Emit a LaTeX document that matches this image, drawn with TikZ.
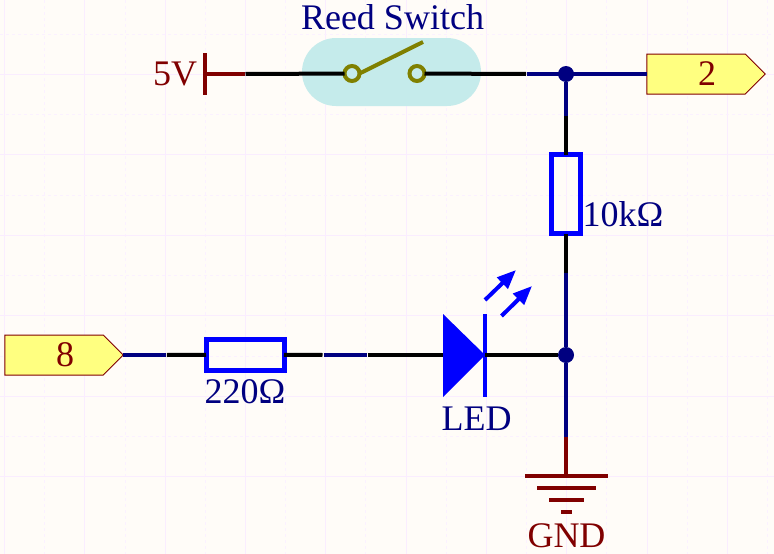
\documentclass[tikz,border=0pt]{standalone}
\usepackage{fontspec}
\setmainfont{Liberation Serif}
\usetikzlibrary{arrows.meta, positioning, shapes.symbols}
\definecolor{sheet}{HTML}{FFFCF8}
\definecolor{gridmajor}{HTML}{FAEDFF}
\definecolor{gridminor}{HTML}{FBF1FF}
\definecolor{netblue}{HTML}{000080}
\definecolor{pinred}{HTML}{800000}
\definecolor{partblue}{HTML}{0000FF}
\definecolor{reedteal}{HTML}{C5EBEB}
\definecolor{reedolive}{HTML}{808000}
\definecolor{portyellow}{HTML}{FFFF80}

\begin{document}
\begin{tikzpicture}[
		x=1pt, y=-1pt,
		node distance=6pt and 2pt,
		every node/.style={inner sep=0pt, outer sep=0pt, font=\fontsize{36}{40}\selectfont},
		lead/.style={line width=4pt, black},
		net/.style={line width=4pt, netblue},
		pin/.style={line width=4pt, pinred},
		bar/.style={line width=4pt, pinred},
		res/.style={draw=partblue, line width=5pt, rectangle},
		dot/.style={circle, fill=netblue, minimum size=16pt},
		port/.style={draw=pinred, line width=1pt, fill=portyellow, text=pinred, signal, signal to=east, signal from=nowhere, signal pointer angle=90, minimum width=118.5pt, minimum height=40pt},
		contact/.style={circle, draw=reedolive, fill=reedteal, line width=4pt, minimum size=15pt},
		blue label/.style={text=netblue},
		red label/.style={text=pinred}
		]
		\useasboundingbox (0,0) rectangle (774,554);
		\fill[sheet] (0,0) rectangle (774,554);
		% sheet grid
		\foreach \i in {0,...,9} {
			\draw[gridmajor, line width=0.8pt] ({4.5+80.3*\i},0) -- ({4.5+80.3*\i},554);
			\draw[gridminor, line width=0.8pt, dashed] ({44.6+80.3*\i},0) -- ({44.6+80.3*\i},554);
		}
		\foreach \i in {0,...,5} {
			\draw[gridmajor, line width=0.8pt] (0,{74+80.5*\i}) -- (774,{74+80.5*\i});
			\draw[gridminor, line width=0.8pt, dashed] (0,{34+80.5*\i}) -- (774,{34+80.5*\i});
		}

		% Reed switch
		\node[fill=reedteal, rounded corners=34pt, minimum width=179pt, minimum height=68pt] at (391.5,72) (reed) {};
		\node[blue label, above = of reed, xshift=1pt, yshift=2pt] (reedlabel) {Reed Switch};
		\node[contact] at (352,73.5) (swa) {};
		\node[contact] at (417,73.5) (swb) {};
		\coordinate (blade) at (423,42);
		\draw[reedolive, line width=4pt] (swa.east) -- (blade);

		% Parts
		\node[res, minimum width=29pt, minimum height=79pt] at (566,194) (rten) {};
		\node[res, minimum width=78pt, minimum height=31pt] at (245,354.5) (rtwo) {};
		\node[port] at (54,355) (porteight) {\hspace*{22pt}8};
		\node[port] at (696,74) (porttwo) {\hspace*{22pt}2};
		\node[dot] at (566,74) (topdot) {};
		\node[dot] at (566,355) (botdot) {};

		% 5V power port
		\coordinate (vbar) at (205,74);
		\coordinate (vend) at (244.5,74);
		\coordinate (vtop) at (205,53);
		\coordinate (vbot) at (205,95);
		\draw[bar] (vtop) -- (vbot);
		\draw[pin] (vbar) -- (vend);
		\node[red label, left = of vbar, xshift=-6pt] (vlabel) {5V};

		% LED
		\coordinate (ledin) at (443,355);
		\coordinate (ledout) at (485,355);
		\coordinate (ledtop) at (485,314);
		\coordinate (ledbot) at (485,397);
		\fill[partblue] (443,314) -- (ledout) -- (443,397) -- cycle;
		\draw[partblue, line width=4pt] (ledtop) -- (ledbot);
		\draw[-{Triangle[length=19pt,width=15pt]}, partblue, line width=4pt] (485,300) -- (516,270);
		\draw[-{Triangle[length=19pt,width=15pt]}, partblue, line width=4pt] (501.5,316) -- (532,286);
		\node[blue label, below = of ledbot, xshift=-8.5pt, yshift=-4pt] (ledlabel) {LED};

		% Draw the wires
		\coordinate (topa) at (245.5,74);
		\coordinate (topb) at (526,74);
		\coordinate (topc) at (527,74);
		\draw[lead] (topa) -- (swa);
		\draw[lead] (swb) -- (topb);
		\draw[net] (topc) -- (porttwo.west);
		\coordinate (upa) at (566,116);
		\coordinate (upb) at (566,273);
		\draw[net] (topdot) -- (upa);
		\draw[lead] (upa) -- (rten);
		\draw[lead] (rten) -- (upb);
		\draw[net] (upb) -- (botdot);
		\coordinate (gnda) at (566,437);
		\coordinate (gndb) at (566,476);
		\draw[net] (botdot) -- (gnda);
		\draw[pin] (gnda) -- (gndb);
		\coordinate (lefta) at (165.8,355);
		\coordinate (leftb) at (166.8,355);
		\coordinate (midb) at (322.5,355);
		\coordinate (midc) at (323.5,355);
		\coordinate (midd) at (366.7,355);
		\coordinate (mide) at (367.7,355);
		\draw[net] (porteight.east) -- (lefta);
		\draw[lead] (leftb) -- (rtwo);
		\draw[lead] (rtwo) -- (midb);
		\draw[net] (midc) -- (midd);
		\draw[lead] (mide) -- (ledin);
		\draw[lead] (ledout) -- (botdot);

		% GND symbol
		\foreach \y/\w in {476/41.5, 488/29.5, 500/17.5, 512/5.5} {
			\draw[bar] (566.5-\w,\y) -- (566.5+\w,\y);
		}
		% denote
		\node[blue label, right = of rten, yshift=-20pt] (rtenlabel) {10kΩ};
		\node[blue label, below = of rtwo, yshift=-4pt] (rtwolabel) {220Ω};
		\node[red label] at (566.5,536) (gndlabel) {GND};
	\end{tikzpicture}
\end{document}
